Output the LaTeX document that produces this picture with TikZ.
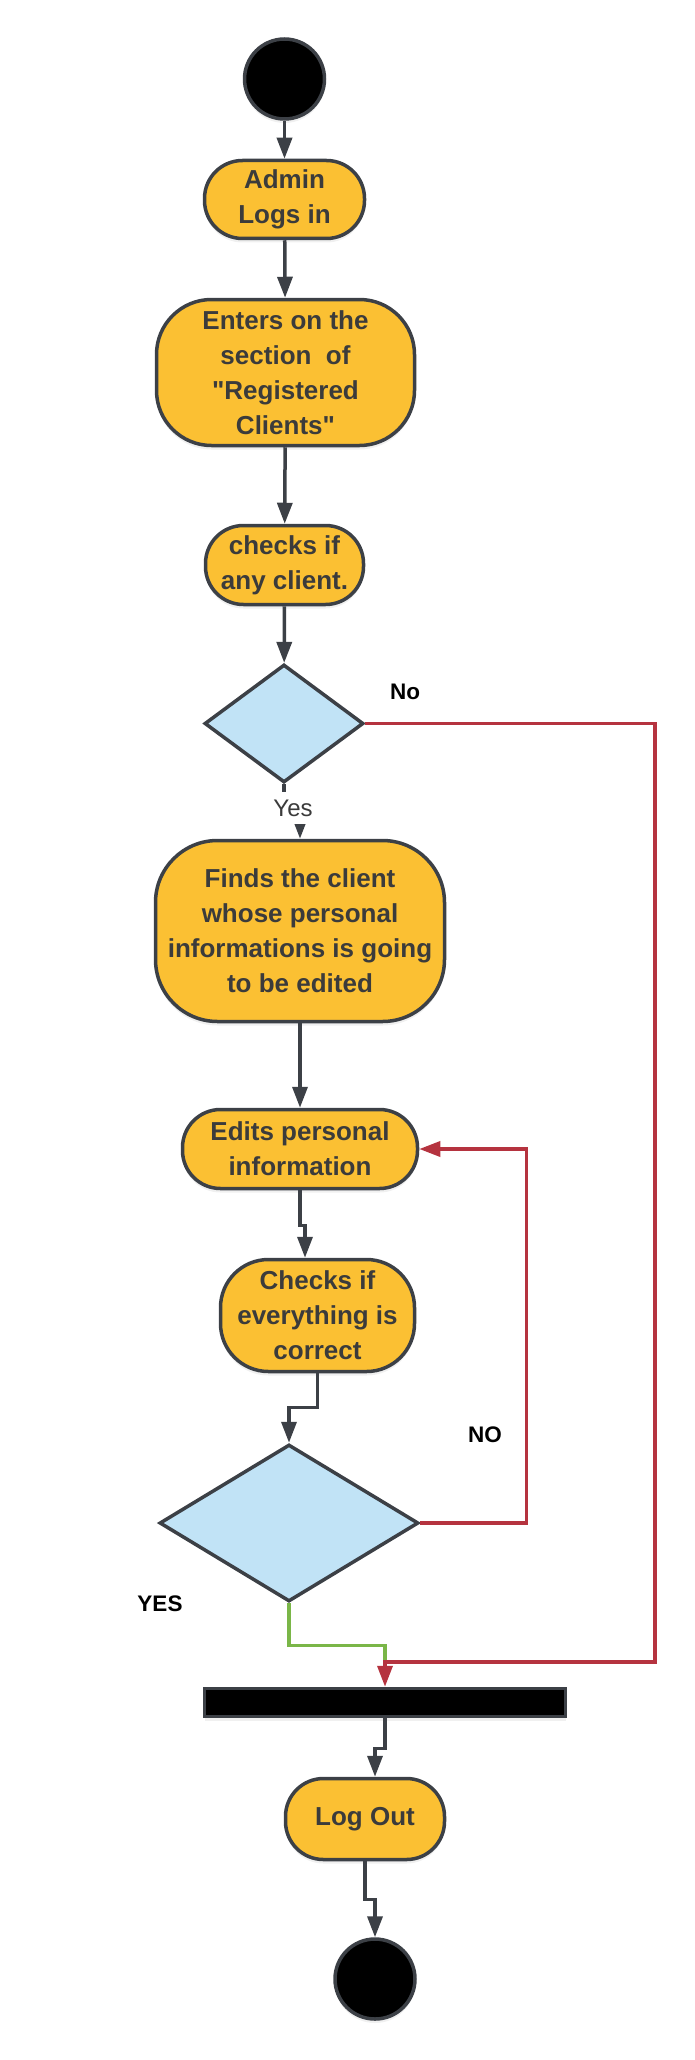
\documentclass[tikz,border=0pt]{standalone}
\usepackage{fontspec}
\setmainfont{Liberation Sans}[Ligatures=TeXOff]
\usetikzlibrary{arrows.meta, shapes.geometric, shadows}
\definecolor{actfill}{HTML}{FBC033}
\definecolor{actline}{HTML}{3C4046}
\definecolor{acttext}{HTML}{3B3B3B}
\definecolor{decfill}{HTML}{C1E3F6}
\definecolor{noline}{HTML}{B5333F}
\definecolor{yesline}{HTML}{7AB648}
\tikzset{>={Triangle[length=21pt,width=15pt]}}
\tikzset{
  shade/.style={drop shadow={shadow xshift=0pt, shadow yshift=-4pt, opacity=.12}},
  act/.style={draw=actline, fill=actfill, line width=3.5pt, rounded corners=38pt, inner sep=0pt,
    align=center, text=acttext, font=\fontsize{26}{35}\selectfont\bfseries, shade},
  dec/.style={diamond, draw=actline, fill=decfill, line width=3.5pt, inner sep=0pt},
  dot/.style={circle, fill=black, draw=actline, line width=3.5pt, minimum size=80pt, inner sep=0pt, shade},
  flow/.style={->, draw=actline, line width=3.5pt},
  nopath/.style={->, draw=noline, line width=3.5pt},
  yespath/.style={draw=yesline, line width=3.5pt},
  lbl/.style={font=\fontsize{22.5}{27}\selectfont\bfseries, text=black},
  yeslbl/.style={font=\fontsize{24}{28}\selectfont, text=acttext, fill=white, inner xsep=2pt, inner ysep=8pt}
}
\begin{document}
\begin{tikzpicture}[x=1pt, y=-1pt]
    \useasboundingbox (0,0) rectangle (695,2060);
    \node[dot] (start) at (284.5,79) {};
    \node[act, minimum width=160, minimum height=78] (admin) at (284.5,199.5) {Admin\\Logs in};
    \node[act, minimum width=258, minimum height=146, rounded corners=55pt] (enters) at (285.5,372.5)
        {Enters on the\\section\ \ of\\"Registered\\Clients"};
    \node[act, minimum width=158, minimum height=79] (anyclient) at (284.5,565) {checks if\\any client.};
    \node[dec, minimum width=159, minimum height=118] (d1) at (284,723.5) {};
    \node[act, minimum width=289, minimum height=181, rounded corners=62pt] (finds) at (300,931)
        {Finds the client\\whose personal\\informations is going\\to be edited};
    \node[act, minimum width=235, minimum height=79] (edits) at (300,1149) {Edits personal\\information};
    \node[act, minimum width=194, minimum height=112, rounded corners=48pt] (checks) at (317.5,1315.5)
        {Checks if\\everything is\\correct};
    \node[dec, minimum width=259, minimum height=157] (d2) at (289,1523) {};
    \node[rectangle, fill=black, draw=actline, line width=3.5pt, minimum width=361, minimum height=28,
        inner sep=0pt, shade] (bar) at (385,1702.5) {};
    \node[act, minimum width=159, minimum height=81] (logout) at (365,1819) {Log Out};
    \node[dot] (end) at (375,1979) {};
    \coordinate (rt) at (655,1662);
    \coordinate (jn) at (385,1662);
    \draw[flow] (start) -- (admin);
    \draw[flow] (admin) -- (enters);
    \draw[flow] (enters) -- (anyclient);
    \draw[flow] (anyclient) -- (d1);
    \draw[flow] (d1.south) -- ++(0,26) -| (finds.north);
    \node[yeslbl] (yes1) at (293,808) {Yes};
    \draw[flow] (finds) -- (edits);
    \draw[flow] (edits.south) -- ++(0,35) -| ([xshift=-12.5pt]checks.north);
    \draw[flow] (checks.south) -- ++(0,34) -| (d2.north);
    \draw[nopath] (d2.east) -- ++(106,0) |- (edits.east);
    \draw[yespath] (d2.south) -- ++(0,42) -| (jn);
    \draw[nopath] (d1.east) -| (rt) -- (jn) -- (bar.north);
    \draw[flow] (bar.south) -- ++(0,30) -| ([xshift=10pt]logout.north);
    \draw[flow] (logout.south) -- ++(0,38) -| (end.north);
    \node[lbl] (no1) at (405,692) {No};
    \node[lbl] (no2) at (485,1435) {NO};
    \node[lbl] (yes2) at (160,1604) {YES};
\end{tikzpicture}
\end{document}
